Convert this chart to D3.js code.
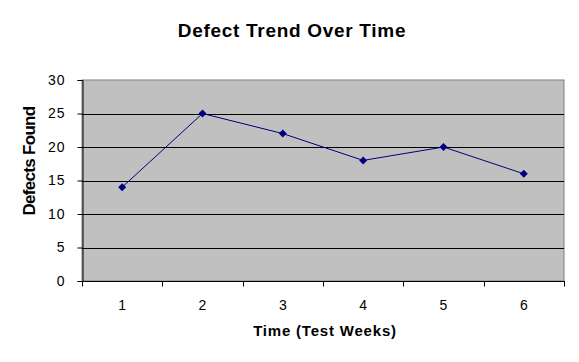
<!DOCTYPE html>
<html>
<head>
<meta charset="utf-8">
<script src="https://cdn.jsdelivr.net/npm/d3@7"></script>
<style>
  body { margin: 0; background: #fff; }
  text { font-family: Arial, "Liberation Sans", sans-serif; fill: #000; }
</style>
</head>
<body>
<div id="chart"></div>
<script>
// chart data
var weeks = [1, 2, 3, 4, 5, 6];
var defects = [14, 25, 22, 18, 20, 16];
var yTicks = [0, 5, 10, 15, 20, 25, 30];

var W = 579, H = 362;
var plot = {left: 82, top: 80, right: 564, bottom: 281};

var svg = d3.select("#chart").append("svg")
  .attr("width", W)
  .attr("height", H);

var xScale = d3.scaleBand()
  .domain(weeks)
  .range([plot.left, plot.right]);

var yScale = d3.scaleLinear()
  .domain([0, 30])
  .range([plot.bottom, plot.top]);

// plot background
svg.append("rect")
  .attr("x", plot.left)
  .attr("y", plot.top)
  .attr("width", plot.right - plot.left)
  .attr("height", plot.bottom - plot.top)
  .attr("fill", "#c0c0c0")
  .attr("stroke", "#808080")
  .attr("stroke-width", 1);

// gridlines
svg.selectAll(".grid")
  .data(yTicks.filter(function(d) { return d > 0 && d < 30; }))
  .enter().append("line")
    .attr("x1", plot.left)
    .attr("x2", plot.right)
    .attr("y1", function(d) { return Math.round(yScale(d)) + 0.5; })
    .attr("y2", function(d) { return Math.round(yScale(d)) + 0.5; })
    .attr("stroke", "#000")
    .attr("stroke-width", 1);

// y axis
var yAxis = svg.append("g")
  .attr("transform", "translate(" + (plot.left + 0.5) + ",0)")
  .call(d3.axisLeft(yScale).tickValues(yTicks).tickSize(5).tickPadding(12));
yAxis.select(".domain").attr("stroke", "#000");
yAxis.selectAll(".tick line").attr("stroke", "#000");
yAxis.selectAll("text")
  .attr("font-size", "14px")
  .attr("letter-spacing", "1px")
  .attr("font-family", "Arial, 'Liberation Sans', sans-serif")
  .attr("fill", "#000");

// x axis, ticks between categories
var xAxisG = svg.append("g")
  .attr("transform", "translate(0," + (plot.bottom + 0.5) + ")");
xAxisG.append("line")
  .attr("x1", plot.left)
  .attr("x2", plot.right + 1)
  .attr("stroke", "#000");
var bounds = [0].concat(weeks).map(function(d, i) {
  return i === 0 ? xScale(weeks[0]) : xScale(weeks[i - 1]) + xScale.bandwidth();
});
xAxisG.selectAll(".xtick")
  .data(bounds)
  .enter().append("line")
    .attr("x1", function(d) { return Math.round(d) + 0.5; })
    .attr("x2", function(d) { return Math.round(d) + 0.5; })
    .attr("y1", 0)
    .attr("y2", 5)
    .attr("stroke", "#000");
xAxisG.selectAll(".xlabel")
  .data(weeks)
  .enter().append("text")
    .attr("x", function(d) { return xScale(d) + xScale.bandwidth() / 2; })
    .attr("y", 28)
    .attr("text-anchor", "middle")
    .attr("font-size", "14px")
    .text(function(d) { return d; });

// line + markers
var line = d3.line()
  .x(function(d, i) { return xScale(weeks[i]) + xScale.bandwidth() / 2; })
  .y(function(d) { return yScale(d); });

svg.append("path")
  .datum(defects)
  .attr("d", line)
  .attr("fill", "none")
  .attr("stroke", "#000080")
  .attr("stroke-width", 1);

svg.selectAll(".marker")
  .data(defects)
  .enter().append("path")
    .attr("transform", function(d, i) {
      return "translate(" + (xScale(weeks[i]) + xScale.bandwidth() / 2) + "," + yScale(d) + ")";
    })
    .attr("d", "M0,-4L4,0L0,4L-4,0Z")
    .attr("fill", "#000080");

// titles
svg.append("text")
  .attr("x", 292)
  .attr("y", 37)
  .attr("text-anchor", "middle")
  .attr("font-size", "19px")
  .attr("letter-spacing", "0.7px")
  .attr("font-weight", "bold")
  .text("Defect Trend Over Time");

svg.append("text")
  .attr("transform", "translate(35,161) rotate(-90)")
  .attr("text-anchor", "middle")
  .attr("font-size", "17px")
  .attr("letter-spacing", "-0.7px")
  .attr("font-weight", "bold")
  .text("Defects Found");

svg.append("text")
  .attr("x", 325)
  .attr("y", 336)
  .attr("text-anchor", "middle")
  .attr("font-size", "15px")
  .attr("letter-spacing", "0.8px")
  .attr("font-weight", "bold")
  .text("Time (Test Weeks)");
</script>
</body>
</html>
